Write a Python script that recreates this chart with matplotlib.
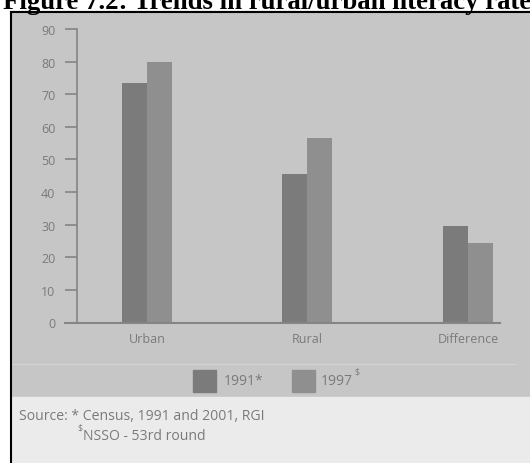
import matplotlib
matplotlib.use("Agg")
import matplotlib.pyplot as plt
from matplotlib.patches import Rectangle
from matplotlib.lines import Line2D

# data
categories = ["Urban", "Rural", "Difference"]
rate_1991 = [73.5, 45.5, 29.5]
rate_1997 = [80.0, 56.5, 24.5]
yticks = [0, 10, 20, 30, 40, 50, 60, 70, 80, 90]

W, H = 530, 464
BG = "#c6c6c6"
TXT = "#7a7a7a"
C91 = "#7b7b7b"
C97 = "#8f8f8f"


def fx(px):
    return px / W


def fy(py):
    return 1 - py / H


fig = plt.figure(figsize=(W / 100, H / 100), dpi=100)
fig.patch.set_facecolor("white")

# scanned panel backgrounds and frame
fig.patches.append(Rectangle((fx(11), fy(398)), 1, fy(12) - fy(398),
                             transform=fig.transFigure, color=BG, zorder=-2))
fig.patches.append(Rectangle((fx(11), 0), 1, fy(398),
                             transform=fig.transFigure, color="#ebebeb", zorder=-2))
fig.lines.append(Line2D([fx(11), 1], [fy(12.5), fy(12.5)], transform=fig.transFigure,
                        color="black", lw=1.5))
fig.lines.append(Line2D([fx(11), fx(11)], [0, fy(12.5)], transform=fig.transFigure,
                        color="black", lw=1.5))
fig.lines.append(Line2D([fx(11), fx(515)], [fy(365), fy(365)], transform=fig.transFigure,
                        color="#d2d2d2", lw=1, zorder=-1))

fig.text(fx(3), fy(9), "Figure 7.2: Trends in rural/urban literacy rate",
         family="Liberation Serif", weight="bold", fontsize=19.3, va="baseline")

# chart
ax = fig.add_axes([fx(65), fy(323.5), fx(500) - fx(65), fy(30) - fy(323.5)])
ax.set_facecolor("none")
x = list(range(len(categories)))
w = 0.156
ax.bar([i - w / 2 for i in x], rate_1991, width=w, color=C91)
ax.bar([i + w / 2 for i in x], rate_1997, width=w, color=C97)

ax.set_xlim(-0.511, 2.2)
ax.set_ylim(0, 90)
ax.set_yticks(yticks)
ax.set_xticks(x)
ax.set_xticklabels(categories)

for s in ["top", "right"]:
    ax.spines[s].set_visible(False)
ax.spines["left"].set_position(("data", -0.436))
ax.spines["left"].set_color("#858585")
ax.spines["bottom"].set_color("#858585")
ax.spines["left"].set_linewidth(1.2)
ax.spines["bottom"].set_linewidth(1.5)
ax.tick_params(axis="y", length=8.6, width=1.2, color="#858585", pad=7,
               labelsize=9, labelcolor=TXT)
ax.tick_params(axis="x", length=0, pad=7, labelsize=9, labelcolor=TXT)
for lab in ax.get_xticklabels() + ax.get_yticklabels():
    lab.set_family("Open Sans")

# legend drawn as figure elements
fig.patches.append(Rectangle((fx(193), fy(393)), fx(216) - fx(193), fy(371) - fy(393),
                             transform=fig.transFigure, color=C91))
fig.patches.append(Rectangle((fx(292), fy(393)), fx(315) - fx(292), fy(371) - fy(393),
                             transform=fig.transFigure, color=C97))
fig.text(fx(224), fy(382), "1991*", family="Open Sans", fontsize=10, color=TXT, va="center")
fig.text(fx(321), fy(382), "1997", family="Open Sans", fontsize=10, color=TXT, va="center")
fig.text(fx(354), fy(372), r"\$", family="Open Sans", fontsize=6.5, color=TXT, va="center")

# source note
fig.text(fx(19), fy(417), "Source: * Census, 1991 and 2001, RGI",
         family="Open Sans", fontsize=10.1, color=TXT, va="center")
fig.text(fx(77), fy(428), r"\$", family="Open Sans", fontsize=6.5, color=TXT, va="center")
fig.text(fx(83), fy(437), "NSSO - 53rd round",
         family="Open Sans", fontsize=10.1, color=TXT, va="center")

fig.savefig("out.png", dpi=100)
